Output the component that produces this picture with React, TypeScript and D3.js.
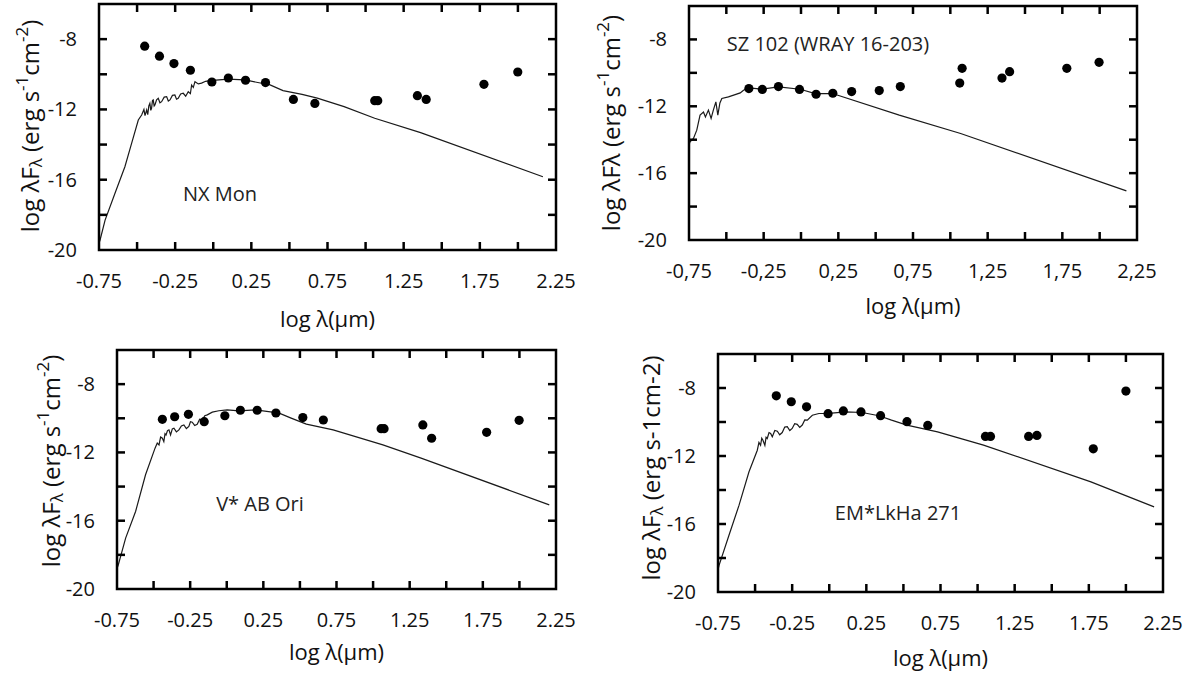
import * as d3 from "d3";

const W = 1201;
const H = 675;

// axis ticks shared by the four panels
const xTicks = [-0.5, -0.25, 0, 0.25, 0.5, 0.75, 1, 1.25, 1.5, 1.75, 2];
const xTickLabels = [-0.75, -0.25, 0.25, 0.75, 1.25, 1.75, 2.25];
const yTicks = [-18, -16, -14, -12, -10, -8];
const yTickLabels = [-20, -16, -12, -8];

// NX Mon
const nxMonObs = [
  [-0.45, -8.4], [-0.353, -8.97], [-0.258, -9.39], [-0.15, -9.77], [-0.009, -10.44],
  [0.099, -10.21], [0.212, -10.34], [0.343, -10.47], [0.526, -11.43], [0.667, -11.66],
  [1.06, -11.5], [1.08, -11.5], [1.34, -11.22], [1.398, -11.43], [1.777, -10.57], [1.999, -9.87],
];
const nxMonModel = [
  [-0.75, -19.6], [-0.743, -19.43], [-0.71, -18.3], [-0.645, -16.77], [-0.58, -15.26],
  [-0.536, -13.93], [-0.492, -12.6], [-0.47, -12.32], [-0.455, -12.0], [-0.448, -12.35],
  [-0.437, -12.03], [-0.43, -12.3], [-0.423, -11.8], [-0.416, -11.65], [-0.41, -12.05],
  [-0.405, -11.94], [-0.399, -11.5], [-0.394, -11.46], [-0.388, -11.8], [-0.383, -11.74],
  [-0.372, -11.45], [-0.361, -11.37], [-0.35, -11.62], [-0.339, -11.56], [-0.322, -11.3],
  [-0.306, -11.27], [-0.295, -11.52], [-0.284, -11.46], [-0.268, -11.2], [-0.252, -11.18],
  [-0.241, -11.42], [-0.23, -11.37], [-0.214, -11.12], [-0.197, -11.08], [-0.181, -11.25],
  [-0.164, -10.99], [-0.15, -11.1], [-0.142, -10.61], [-0.131, -10.75], [-0.12, -10.42],
  [-0.098, -10.55], [-0.077, -10.5], [-0.05, -10.4], [-0.022, -10.36], [0.098, -10.28],
  [0.207, -10.32], [0.317, -10.51], [0.358, -10.55], [0.458, -10.93], [0.583, -11.14],
  [0.683, -11.36], [0.859, -11.84], [1.06, -12.5], [1.361, -13.32], [2.164, -15.83],
];

// SZ 102 (WRAY 16-203)
const sz102Obs = [
  [-0.349, -10.94], [-0.259, -10.99], [-0.151, -10.82], [-0.01, -10.99], [0.101, -11.28],
  [0.213, -11.22], [0.339, -11.12], [0.524, -11.06], [0.665, -10.82], [1.063, -10.61],
  [1.079, -9.73], [1.346, -10.31], [1.397, -9.93], [1.78, -9.73], [1.996, -9.37],
];
const sz102Model = [
  [-0.75, -14.3], [-0.743, -14.13], [-0.72, -13.92], [-0.698, -13.43], [-0.676, -12.53],
  [-0.653, -12.34], [-0.64, -12.64], [-0.62, -12.23], [-0.602, -12.73], [-0.587, -12.23],
  [-0.57, -11.74], [-0.557, -12.53], [-0.543, -11.8], [-0.53, -11.53], [-0.486, -11.44],
  [-0.441, -11.3], [-0.407, -11.2], [-0.385, -11.04], [-0.352, -10.9], [-0.26, -10.97],
  [-0.151, -10.84], [-0.005, -10.98], [0.095, -11.24], [0.214, -11.24], [0.247, -11.34],
  [0.658, -12.53], [1.069, -13.63], [2.179, -17.06],
];

// V* AB Ori
const abOriObs = [
  [-0.44, -10.06], [-0.356, -9.91], [-0.262, -9.77], [-0.154, -10.2], [-0.013, -9.85],
  [0.093, -9.53], [0.208, -9.53], [0.336, -9.69], [0.52, -9.96], [0.66, -10.1],
  [1.055, -10.61], [1.075, -10.61], [1.34, -10.39], [1.4, -11.17], [1.776, -10.82], [1.998, -10.12],
];
const abOriModel = [
  [-0.75, -18.8], [-0.741, -18.58], [-0.691, -17.02], [-0.623, -15.46], [-0.555, -13.31],
  [-0.49, -11.75], [-0.475, -11.45], [-0.463, -11.56], [-0.452, -11.1], [-0.44, -11.17],
  [-0.43, -11.37], [-0.422, -10.9], [-0.415, -10.98], [-0.405, -10.72], [-0.395, -10.68],
  [-0.384, -10.98], [-0.372, -10.62], [-0.361, -10.58], [-0.344, -10.8], [-0.327, -10.68],
  [-0.31, -10.45], [-0.293, -10.39], [-0.276, -10.6], [-0.259, -10.48], [-0.248, -10.2],
  [-0.236, -10.23], [-0.219, -10.42], [-0.202, -10.35], [-0.185, -10.05], [-0.167, -10.09],
  [-0.15, -9.85], [-0.133, -9.8], [-0.099, -9.64], [-0.054, -9.56], [0.003, -9.51],
  [0.083, -9.56], [0.197, -9.51], [0.311, -9.64], [0.334, -9.61], [0.44, -9.99],
  [0.544, -10.34], [0.727, -10.68], [1.067, -11.56], [1.328, -12.33], [2.204, -15.07],
];

// EM*LkHa 271
const lkHaObs = [
  [-0.357, -8.46], [-0.256, -8.81], [-0.153, -9.11], [-0.008, -9.51], [0.095, -9.35],
  [0.214, -9.41], [0.346, -9.63], [0.524, -9.98], [0.664, -10.2], [1.053, -10.85],
  [1.087, -10.85], [1.344, -10.85], [1.4, -10.79], [1.78, -11.58], [2.0, -8.18],
];
const lkHaModel = [
  [-0.75, -18.7], [-0.743, -18.43], [-0.676, -16.66], [-0.608, -14.89], [-0.541, -12.93],
  [-0.485, -11.66], [-0.474, -11.2], [-0.463, -11.37], [-0.455, -10.95], [-0.447, -11.07],
  [-0.434, -11.37], [-0.426, -10.9], [-0.418, -10.97], [-0.406, -10.62], [-0.395, -10.67],
  [-0.384, -10.87], [-0.367, -10.5], [-0.35, -10.54], [-0.334, -10.75], [-0.317, -10.62],
  [-0.3, -10.3], [-0.283, -10.28], [-0.266, -10.5], [-0.25, -10.38], [-0.233, -10.1],
  [-0.216, -10.14], [-0.199, -10.32], [-0.182, -10.18], [-0.165, -9.88], [-0.148, -9.89],
  [-0.114, -9.6], [-0.07, -9.5], [-0.002, -9.49], [0.11, -9.4], [0.222, -9.44],
  [0.335, -9.63], [0.42, -9.89], [0.523, -10.18], [0.73, -10.58], [1.04, -11.36],
  [1.764, -13.52], [2.19, -14.99],
];

const FONT = "'Open Sans', 'Noto Sans', sans-serif";

type Cfg = {
  name: string;
  box: { left: number; right: number; top: number; bottom: number };
  obs: number[][];
  model: number[][];
  comma: boolean;
  labelKind: "subSup" | "sup" | "sub";
  yLabelAt: [number, number];
  xLabelDy: number;
  noteAt: [number, number];
};

const panels: Cfg[] = [
  {
    name: "NX Mon",
    box: { left: 99, right: 556, top: 4, bottom: 250 },
    obs: nxMonObs, model: nxMonModel, comma: false, labelKind: "subSup",
    yLabelAt: [29, 126], xLabelDy: 68, noteAt: [220, 193],
  },
  {
    name: "SZ 102 (WRAY 16-203)",
    box: { left: 689, right: 1137, top: 6, bottom: 240 },
    obs: sz102Obs, model: sz102Model, comma: true, labelKind: "sup",
    yLabelAt: [610, 123], xLabelDy: 65, noteAt: [828, 43],
  },
  {
    name: "V* AB Ori",
    box: { left: 117, right: 556, top: 350, bottom: 589 },
    obs: abOriObs, model: abOriModel, comma: false, labelKind: "subSup",
    yLabelAt: [50, 461], xLabelDy: 62, noteAt: [260, 503],
  },
  {
    name: "EM*LkHa 271",
    box: { left: 718, right: 1163, top: 354, bottom: 592 },
    obs: lkHaObs, model: lkHaModel, comma: false, labelKind: "sub",
    yLabelAt: [650, 468], xLabelDy: 65, noteAt: [898, 512],
  },
];

const YLabel = ({ kind, x, y }: { kind: Cfg["labelKind"]; x: number; y: number }) => {
  const fs = 24;
  const small = 17;
  return (
    <text
      transform={`translate(${x},${y}) rotate(-90)`}
      textAnchor="middle"
      dominantBaseline="central"
      fontSize={fs}
      fontFamily={FONT}
      fill="#111"
    >
      {kind === "sup" ? (
        <tspan>log λFλ (erg s</tspan>
      ) : (
        <>
          <tspan>log λF</tspan>
          <tspan fontSize={small} dy={6}>λ</tspan>
          <tspan dy={-6}> (erg s</tspan>
        </>
      )}
      {kind === "sub" ? (
        <tspan>-1cm-2)</tspan>
      ) : (
        <>
          <tspan fontSize={small} dy={-8}>-1</tspan>
          <tspan dy={8}>cm</tspan>
          <tspan fontSize={small} dy={-8}>-2</tspan>
          <tspan dy={8}>)</tspan>
        </>
      )}
    </text>
  );
};

const Panel = ({ cfg }: { cfg: Cfg }) => {
  const { box } = cfg;
  const x = d3.scaleLinear().domain([-0.75, 2.25]).range([box.left, box.right]);
  const y = d3.scaleLinear().domain([-20, -6]).range([box.bottom, box.top]);
  const line = d3
    .line<number[]>()
    .x((d) => x(d[0]))
    .y((d) => y(d[1]));
  const fmtX = (v: number) => {
    const s = v.toFixed(2);
    return cfg.comma ? s.replace(".", ",") : s;
  };
  const tk = 8;
  const cx = (box.left + box.right) / 2;

  return (
    <g>
      <path d={line(cfg.model) ?? ""} fill="none" stroke="#1a1a1a" strokeWidth={1.2} />
      {cfg.obs.map((d, i) => (
        <circle key={i} cx={x(d[0])} cy={y(d[1])} r={4.6} fill="#000" />
      ))}
      {/* inward ticks on all four sides */}
      {xTicks.map((v) => (
        <g key={`xt${v}`}>
          <line x1={x(v)} x2={x(v)} y1={box.bottom} y2={box.bottom - tk} stroke="#000" strokeWidth={2.5} />
          <line x1={x(v)} x2={x(v)} y1={box.top} y2={box.top + tk} stroke="#000" strokeWidth={2.5} />
        </g>
      ))}
      {yTicks.map((v) => (
        <g key={`yt${v}`}>
          <line x1={box.left} x2={box.left + tk} y1={y(v)} y2={y(v)} stroke="#000" strokeWidth={2.5} />
          <line x1={box.right} x2={box.right - tk} y1={y(v)} y2={y(v)} stroke="#000" strokeWidth={2.5} />
        </g>
      ))}
      <rect
        x={box.left}
        y={box.top}
        width={box.right - box.left}
        height={box.bottom - box.top}
        fill="none"
        stroke="#000"
        strokeWidth={2.5}
      />
      {xTickLabels.map((v) => (
        <text
          key={`xl${v}`}
          x={x(v)}
          y={box.bottom + 38}
          textAnchor="middle"
          fontSize={20}
          fontFamily={FONT}
          fill="#111"
        >
          {fmtX(v)}
        </text>
      ))}
      {yTickLabels.map((v) => (
        <text
          key={`yl${v}`}
          x={box.left - 22}
          y={y(v)}
          dy="0.35em"
          textAnchor="end"
          fontSize={20}
          fontFamily={FONT}
          fill="#111"
        >
          {v}
        </text>
      ))}
      <text
        x={cx}
        y={box.bottom + cfg.xLabelDy}
        textAnchor="middle"
        dominantBaseline="central"
        fontSize={22}
        fontFamily={FONT}
        fill="#111"
      >
        log λ(µm)
      </text>
      <YLabel kind={cfg.labelKind} x={cfg.yLabelAt[0]} y={cfg.yLabelAt[1]} />
      <text
        x={cfg.noteAt[0]}
        y={cfg.noteAt[1]}
        textAnchor="middle"
        dominantBaseline="central"
        fontSize={20}
        fontFamily={FONT}
        fill="#222"
      >
        {cfg.name}
      </text>
    </g>
  );
};

const App = () => (
  <svg
    width={W}
    height={H}
    viewBox={`0 0 ${W} ${H}`}
    style={{ position: "absolute", left: 0, top: 0, background: "#fff" }}
  >
    <rect width={W} height={H} fill="#fff" />
    {panels.map((p) => (
      <Panel key={p.name} cfg={p} />
    ))}
  </svg>
);

export default App;
